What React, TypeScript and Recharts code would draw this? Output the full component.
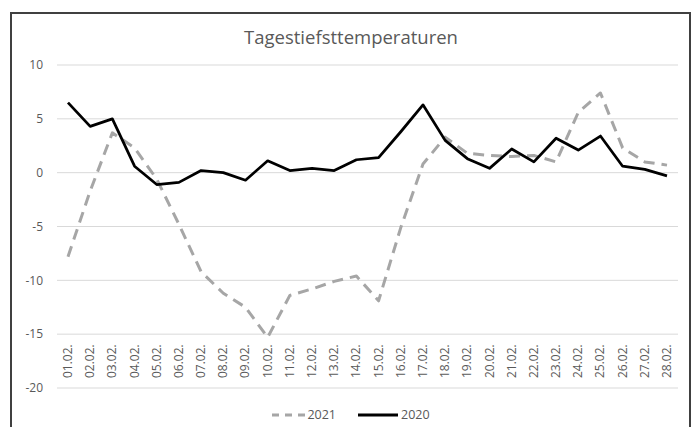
import React from 'react';
import { LineChart, Line, XAxis, YAxis, CartesianGrid } from 'recharts';

const days = [
    '01.02.', '02.02.', '03.02.', '04.02.', '05.02.', '06.02.', '07.02.',
    '08.02.', '09.02.', '10.02.', '11.02.', '12.02.', '13.02.', '14.02.',
    '15.02.', '16.02.', '17.02.', '18.02.', '19.02.', '20.02.', '21.02.',
    '22.02.', '23.02.', '24.02.', '25.02.', '26.02.', '27.02.', '28.02.',
];

const temps2021 = [
    -7.8, -1.7, 3.7, 2.3, -0.6, -4.8, -9.2, -11.2, -12.5, -15.3, -11.4, -10.8, -10.1, -9.6,
    -11.9, -5.1, 0.8, 3.3, 1.8, 1.6, 1.5, 1.6, 1.0, 5.6, 7.4, 2.3, 1.0, 0.7,
];

const temps2020 = [
    6.5, 4.3, 5.0, 0.6, -1.1, -0.9, 0.2, 0.0, -0.7, 1.1, 0.2, 0.4, 0.2, 1.2,
    1.4, 3.8, 6.3, 3.0, 1.3, 0.4, 2.2, 1.0, 3.2, 2.1, 3.4, 0.6, 0.3, -0.3,
];

const yTicks = [-20, -15, -10, -5, 0, 5, 10];

const data = days.map((day, i) => ({
    day,
    y2021: temps2021[i],
    y2020: temps2020[i],
}));

const FONT = '"Open Sans", sans-serif';
const TEXT = '#595959';
const PLOT_BOTTOM = 388;

// rotated date labels sit inside the plot, just above the -20 line
const DateTick = (props: any) => {
    const { x, payload } = props;
    return (
        <text
            transform={`translate(${x + 4},${PLOT_BOTTOM - 10}) rotate(-90)`}
            textAnchor="start"
            fontSize={12}
            fontFamily={FONT}
            fill={TEXT}
        >
            {payload.value}
        </text>
    );
};

export default function App() {
    return (
        <div style={{ position: 'absolute', left: 0, top: 0, width: 694, height: 427, overflow: 'hidden', background: '#fff' }}>
            <div style={{ position: 'absolute', left: 10, top: 12, width: 677, height: 440, border: '2px solid #404040' }} />
            <div
                style={{
                    position: 'absolute', left: 0, top: 24, width: 702, textAlign: 'center',
                    fontFamily: FONT, fontSize: 18.5, color: TEXT,
                }}
            >
                Tagestiefsttemperaturen
            </div>

            <LineChart
                width={694}
                height={427}
                data={data}
                margin={{ top: 65, right: 16, bottom: 38, left: 7 }}
                style={{ position: 'absolute', left: 0, top: 0 }}
            >
                <CartesianGrid vertical={false} stroke="#d9d9d9" strokeWidth={1} />
                <XAxis
                    dataKey="day"
                    height={1}
                    interval={0}
                    axisLine={false}
                    tickLine={false}
                    padding={{ left: 11, right: 11 }}
                    tick={<DateTick />}
                />
                <YAxis
                    width={50}
                    domain={[-20, 10]}
                    ticks={yTicks}
                    axisLine={false}
                    tickLine={false}
                    tickMargin={8}
                    tick={{ fill: TEXT, fontSize: 12, fontFamily: FONT }}
                />
                <Line
                    dataKey="y2021"
                    stroke="#a6a6a6"
                    strokeWidth={3}
                    strokeDasharray="11 7"
                    strokeLinejoin="round"
                    dot={false}
                    isAnimationActive={false}
                />
                <Line
                    dataKey="y2020"
                    stroke="#000"
                    strokeWidth={2.75}
                    strokeLinejoin="round"
                    dot={false}
                    isAnimationActive={false}
                />
            </LineChart>

            <div
                style={{
                    position: 'absolute', left: 0, top: 406, width: 702, display: 'flex',
                    justifyContent: 'center', alignItems: 'center', fontFamily: FONT, fontSize: 12.5, color: TEXT,
                }}
            >
                <svg width={33} height={10}>
                    <line x1={0} y1={5} x2={33} y2={5} stroke="#a6a6a6" strokeWidth={3} strokeDasharray="7 6" />
                </svg>
                <span style={{ marginLeft: 2, marginRight: 22 }}>2021</span>
                <svg width={40} height={10}>
                    <line x1={0} y1={5} x2={40} y2={5} stroke="#000" strokeWidth={3} />
                </svg>
                <span style={{ marginLeft: 3 }}>2020</span>
            </div>
        </div>
    );
}
